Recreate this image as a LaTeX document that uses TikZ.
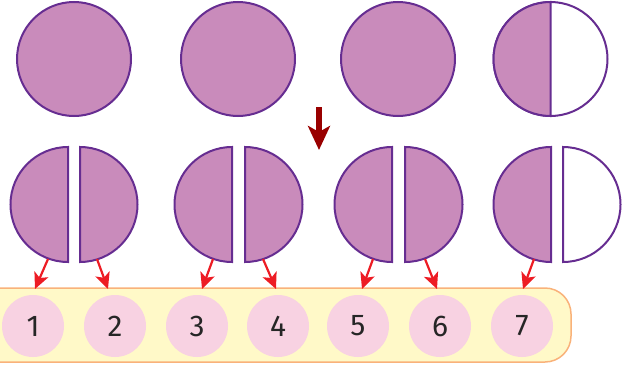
\documentclass[tikz,border=0pt]{standalone}
\usepackage{fontspec}
\setmainfont{Fira Sans}
\usetikzlibrary{arrows.meta}
\definecolor{pfill}{HTML}{C98BBB}
\definecolor{pline}{HTML}{662D91}
\definecolor{pinkc}{HTML}{F8D2E2}
\definecolor{bandfill}{HTML}{FFF9C8}
\definecolor{bandline}{HTML}{F9B27A}
\definecolor{redarr}{HTML}{ED1C24}
\definecolor{darkarr}{HTML}{990000}
\tikzset{
  whole/.style={draw=pline, line width=2pt, fill=pfill},
  halfpart/.style={draw=pline, line width=2pt, fill=pfill, line join=miter},
  emptypart/.style={draw=pline, line width=2pt, fill=white},
  numc/.style={circle, fill=pinkc, minimum size=62pt, inner sep=0pt, text=black!85, font=\fontsize{30}{30}\selectfont},
  redarrow/.style={draw=redarr, line width=2.2pt, -{Stealth[width=15pt,length=16pt,inset=4pt]}},
  bigarrow/.style={draw=darkarr, line width=5.5pt, -{Stealth[width=22pt,length=24pt,inset=6pt]}},
}
\begin{document}
\begin{tikzpicture}[x=1pt,y=-1pt]
\useasboundingbox (0,0) rectangle (637,364);
% band
\draw[fill=bandfill, draw=bandline, line width=1.5pt, rounded corners=26pt] (-40,288) rectangle (571,362);
% top circles
\draw[whole] (74,59) circle (57);
\draw[whole] (238,59) circle (57);
\draw[whole] (398,59) circle (57);
\draw[emptypart] (550.5,59) circle (57);
\draw[halfpart] (550.5,2) arc[start angle=270, end angle=90, radius=57] -- cycle;
% down arrow
\coordinate (d1) at (319,107);
\coordinate (d2) at (319,150);
\draw[bigarrow] (d1) -- (d2);
% halves
\foreach \l/\r in {68/80, 232/245, 392/405}{
  \draw[halfpart] (\l,147) arc[start angle=270, end angle=90, radius=57.5] -- cycle;
  \draw[halfpart] (\r,147) arc[start angle=-90, end angle=90, radius=57.5] -- cycle;
}
\draw[halfpart] (551,147) arc[start angle=270, end angle=90, radius=57.5] -- cycle;
\draw[emptypart] (563,147) arc[start angle=-90, end angle=90, radius=57.5] -- cycle;
% number circles
\node[numc] (n1) at (33,326) {1};
\node[numc] (n2) at (115,326) {2};
\node[numc] (n3) at (197,326) {3};
\node[numc] (n4) at (278,326) {4};
\node[numc] (n5) at (358,326) {5};
\node[numc] (n6) at (440,326) {6};
\node[numc] (n7) at (522,326) {7};
% arrow coordinates
\coordinate (s1) at (48,259);  \coordinate (e1) at (35,289);
\coordinate (s2) at (97,259);  \coordinate (e2) at (108,289);
\coordinate (s3) at (213,259); \coordinate (e3) at (202,289);
\coordinate (s4) at (263,259); \coordinate (e4) at (276,289);
\coordinate (s5) at (373,259); \coordinate (e5) at (362,289);
\coordinate (s6) at (425,259); \coordinate (e6) at (437,289);
\coordinate (s7) at (534,259); \coordinate (e7) at (523,289);
\foreach \i in {1,...,7}{ \draw[redarrow] (s\i) -- (e\i); }
\end{tikzpicture}
\end{document}
